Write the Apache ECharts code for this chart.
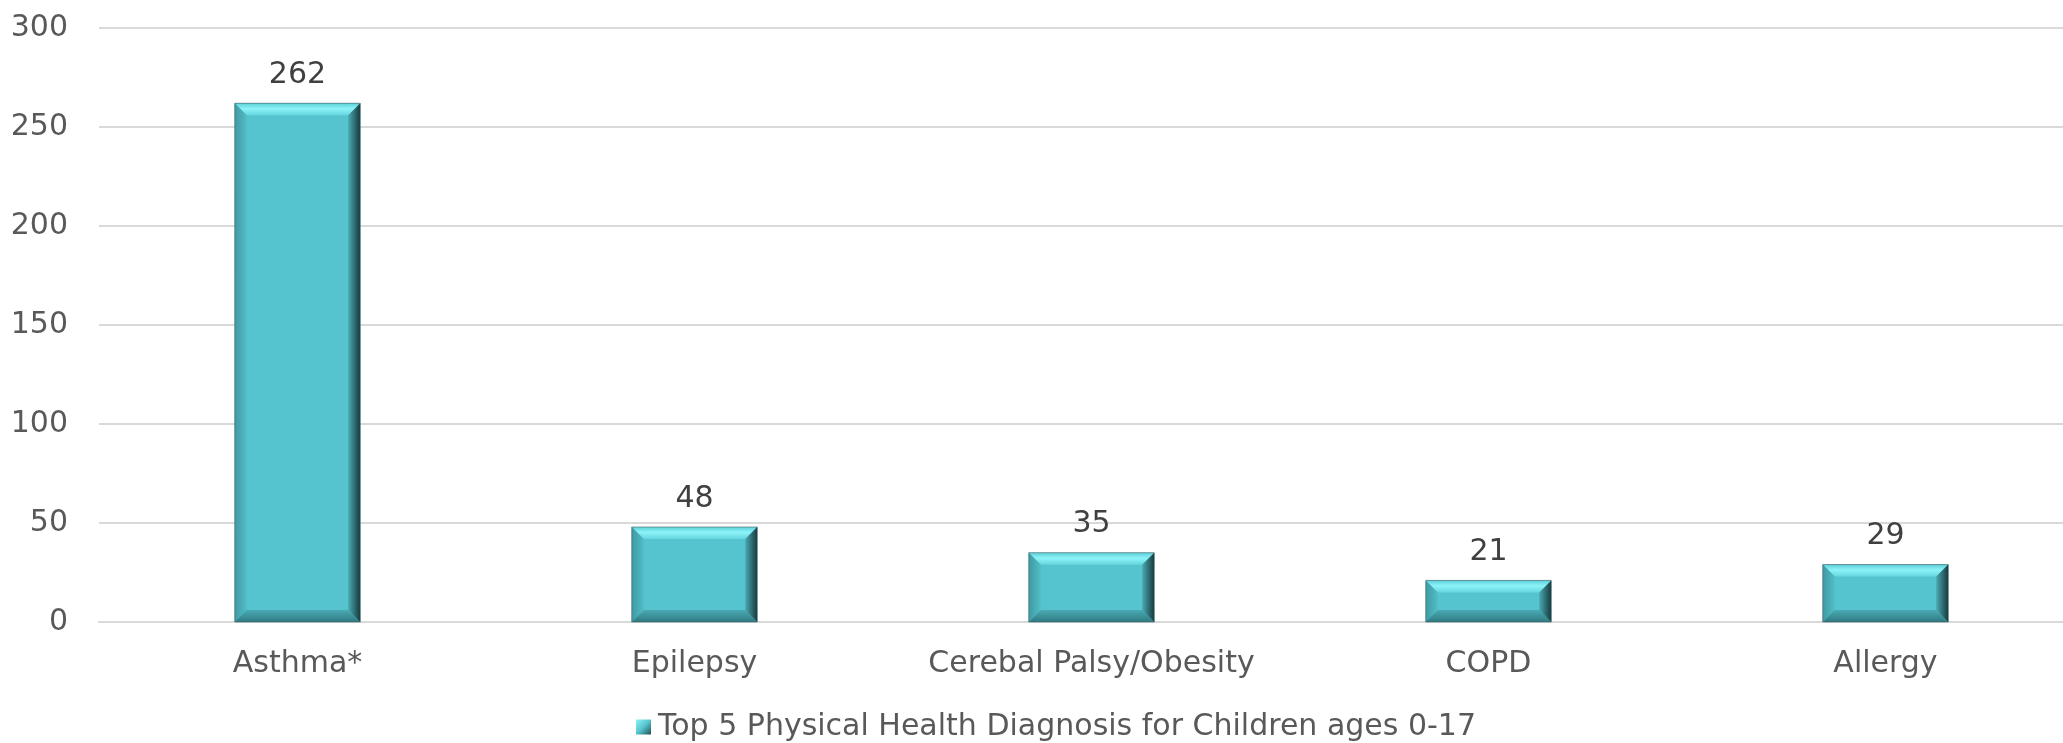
<!DOCTYPE html>
<html>
<head>
<meta charset="utf-8">
<script src="https://cdn.jsdelivr.net/npm/echarts@6/dist/echarts.min.js"></script>
<style>
  html, body { margin: 0; padding: 0; background: #ffffff; overflow: hidden; }
  #wrap { width: 2063px; height: 743px; overflow: hidden; }
  #chart { width: 2084px; height: 743px; }
</style>
</head>
<body>
<div id="wrap"><div id="chart"></div></div>
<script>
// Diagnosis categories and counts
const categories = ['Asthma*', 'Epilepsy', 'Cerebal Palsy/Obesity', 'COPD', 'Allergy'];
const counts = [262, 48, 35, 21, 29];
const seriesName = 'Top 5 Physical Health Diagnosis for Children ages 0-17';

const FONT = 'DejaVu Sans';
const FONT_SIZE = 30;
const BAR_FRACTION = 0.316;

const chart = echarts.init(document.getElementById('chart'), null, { renderer: 'canvas' });

const lin = (x, y, x2, y2, stops) => new echarts.graphic.LinearGradient(x, y, x2, y2, stops);

// Bevel overlay drawn on each bar: four trapezoid faces
function renderBevel(params, api) {
  const idx = api.value(0);
  const v = api.value(1);
  const topPt = api.coord([idx, v]);
  const basePt = api.coord([idx, 0]);
  const w = api.size([1, 0])[0] * BAR_FRACTION;
  const x0 = topPt[0] - w / 2, x1 = topPt[0] + w / 2;
  const y0 = topPt[1], y1 = basePt[1];
  const b = Math.min(12, (y1 - y0) / 2, w / 2);
  return {
    type: 'group',
    children: [
      { type: 'polygon', shape: { points: [[x0, y0], [x1, y0], [x1 - b, y0 + b], [x0 + b, y0 + b]] },
        style: { fill: lin(0, 0, 0, 1, [{ offset: 0, color: '#5fcfd8' }, { offset: 0.45, color: '#8cf3f8' }, { offset: 1, color: '#66d6df' }]) } },
      { type: 'polygon', shape: { points: [[x0, y0], [x0 + b, y0 + b], [x0 + b, y1 - b], [x0, y1]] },
        style: { fill: lin(0, 0, 1, 0, [{ offset: 0, color: '#3f9aa2' }, { offset: 1, color: '#52bdc6' }]) } },
      { type: 'polygon', shape: { points: [[x0, y1], [x1, y1], [x1 - b, y1 - b], [x0 + b, y1 - b]] },
        style: { fill: lin(0, 0, 0, 1, [{ offset: 0, color: '#4aaab3' }, { offset: 1, color: '#2f7a81' }]) } },
      { type: 'polygon', shape: { points: [[x1, y0], [x1, y1], [x1 - b, y1 - b], [x1 - b, y0 + b]] },
        style: { fill: lin(0, 0, 1, 0, [{ offset: 0, color: '#4aa9b1' }, { offset: 1, color: '#163a3e' }]) } },
      { type: 'rect', shape: { x: x0, y: y0, width: w, height: y1 - y0 },
        style: { fill: 'none', stroke: 'rgba(60,90,95,0.55)', lineWidth: 1 } }
    ]
  };
}

chart.setOption({
  animation: false,
  backgroundColor: '#ffffff',
  textStyle: { fontFamily: FONT },
  grid: { left: 99, top: 28, right: 0, height: 594, containLabel: false },
  legend: {
    data: [seriesName],
    left: 636,
    top: 712,
    padding: 0,
    icon: 'rect',
    itemWidth: 15,
    itemHeight: 15,
    itemStyle: {
      color: lin(0, 0, 1, 1, [{ offset: 0, color: '#8cf3f8' }, { offset: 0.5, color: '#56c4ce' }, { offset: 1, color: '#1f5055' }])
    },
    textStyle: { fontFamily: FONT, fontSize: FONT_SIZE, color: '#595959', padding: [0, 0, 0, 2] }
  },
  xAxis: {
    type: 'category',
    data: categories,
    axisLine: { show: true, lineStyle: { color: '#d9d9d9', width: 2 } },
    axisTick: { show: false },
    axisLabel: { interval: 0, hideOverlap: false, fontFamily: FONT, fontSize: FONT_SIZE, color: '#595959', margin: 27 }
  },
  yAxis: {
    type: 'value',
    min: 0,
    max: 300,
    interval: 50,
    axisLine: { show: false },
    axisTick: { show: false },
    axisLabel: { fontFamily: FONT, fontSize: FONT_SIZE, color: '#595959', margin: 31 },
    splitLine: { lineStyle: { color: '#d9d9d9', width: 2 } }
  },
  series: [
    {
      name: seriesName,
      type: 'bar',
      data: counts,
      barWidth: (BAR_FRACTION * 100) + '%',
      itemStyle: { color: '#56c4ce' },
      label: { show: true, position: 'top', distance: 13, fontFamily: FONT, fontSize: FONT_SIZE, color: '#404040' },
      z: 2
    },
    {
      name: 'bevel',
      type: 'custom',
      silent: true,
      z: 3,
      renderItem: renderBevel,
      data: counts.map((v, i) => [i, v])
    }
  ]
});
</script>
</body>
</html>
